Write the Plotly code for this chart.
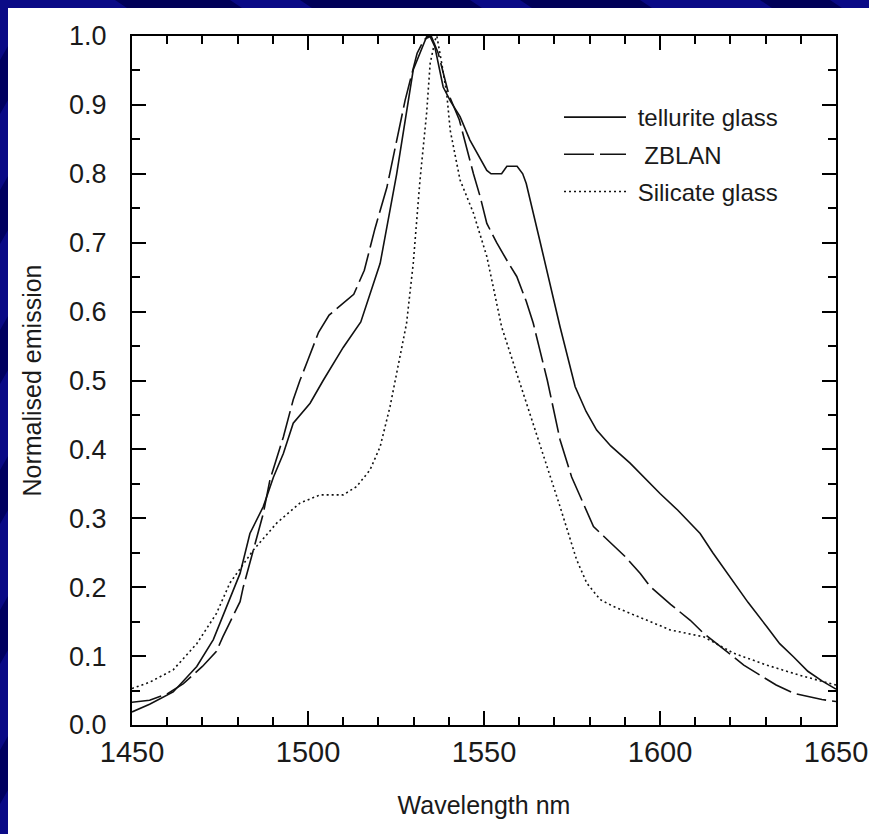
import plotly.graph_objects as go

# Emission spectra (normalised) for three host glasses
tellurite_nm = [1450, 1455, 1461.7, 1468.4, 1473.1, 1477.8, 1480.7, 1483.5, 1487.3, 1490.2,
                1493, 1495.8, 1500.6, 1504.3, 1510, 1515, 1517.5, 1520.5, 1525.2, 1529.9,
                1533.7, 1534.6, 1536, 1538.4, 1540.5, 1543.2, 1546, 1550.8, 1552, 1555,
                1556.5, 1559.4, 1561, 1562, 1566, 1571.6, 1575.9, 1579, 1582, 1586,
                1591.5, 1600, 1605, 1611.4, 1615, 1619.9, 1625, 1630.3, 1634, 1637.9,
                1642, 1646, 1650]
tellurite_em = [0.019, 0.03, 0.048, 0.085, 0.124, 0.182, 0.22, 0.278, 0.317, 0.36,
                0.394, 0.438, 0.467, 0.50, 0.548, 0.585, 0.625, 0.67, 0.80, 0.951,
                0.999, 1.0, 0.985, 0.926, 0.905, 0.883, 0.849, 0.805, 0.80, 0.80,
                0.811, 0.811, 0.80, 0.786, 0.70, 0.578, 0.491, 0.455, 0.428, 0.405,
                0.38, 0.336, 0.312, 0.278, 0.25, 0.215, 0.178, 0.143, 0.118, 0.099,
                0.078, 0.064, 0.052]

zblan_nm = [1450, 1455, 1460, 1464.6, 1470, 1474, 1475.8, 1480.7, 1481.6, 1487.3,
            1489.2, 1493, 1495.8, 1497.7, 1500, 1503, 1506, 1510, 1513, 1516,
            1519, 1522.4, 1524.7, 1527.6, 1531, 1533, 1535, 1537, 1540, 1543,
            1547, 1548.9, 1550.8, 1553.6, 1557, 1559.3, 1562, 1564, 1568, 1571.6,
            1574.9, 1581.1, 1584, 1590, 1594.4, 1597.2, 1603, 1608.6, 1612.4, 1618,
            1623.8, 1627.6, 1633, 1638, 1642.3, 1646, 1650]
zblan_em = [0.033, 0.036, 0.045, 0.06, 0.085, 0.107, 0.128, 0.179, 0.20, 0.307,
            0.356, 0.418, 0.472, 0.50, 0.53, 0.57, 0.595, 0.612, 0.625, 0.66,
            0.72, 0.78, 0.835, 0.907, 0.975, 0.995, 1.0, 0.975, 0.915, 0.878,
            0.80, 0.767, 0.728, 0.70, 0.67, 0.651, 0.615, 0.583, 0.50, 0.414,
            0.36, 0.288, 0.274, 0.245, 0.22, 0.201, 0.175, 0.152, 0.133, 0.11,
            0.087, 0.075, 0.058, 0.046, 0.041, 0.037, 0.034]

silicate_nm = [1450, 1455, 1461.7, 1468.4, 1474, 1477.8, 1484.5, 1491.1, 1497.7, 1503.4,
               1510, 1513.8, 1517.6, 1520.5, 1523.3, 1526, 1528, 1529.9, 1531.8, 1533.7,
               1534.7, 1536.1, 1536.6, 1538, 1539.4, 1540.4, 1543.2, 1547, 1550.8, 1555,
               1560, 1565, 1571.6, 1576.3, 1579.2, 1583, 1586.8, 1596.3, 1602.9, 1612.4,
               1621, 1630.3, 1639.8, 1650]
silicate_em = [0.053, 0.062, 0.08, 0.118, 0.162, 0.206, 0.254, 0.293, 0.322, 0.334,
               0.334, 0.346, 0.37, 0.404, 0.462, 0.53, 0.583, 0.67, 0.79, 0.888,
               0.96, 0.994, 1.0, 0.96, 0.917, 0.863, 0.791, 0.743, 0.68, 0.578,
               0.50, 0.42, 0.317, 0.24, 0.206, 0.182, 0.172, 0.152, 0.138, 0.128,
               0.104, 0.087, 0.072, 0.058]

series_names = [" tellurite glass", "  ZBLAN", " Silicate glass"]
x_ticks = [1450, 1500, 1550, 1600, 1650]
y_ticks = [0.0, 0.1, 0.2, 0.3, 0.4, 0.5, 0.6, 0.7, 0.8, 0.9, 1.0]

FONT = "Liberation Sans, Arial, sans-serif"
INK = "#1a1a1a"

fig = go.Figure()
fig.add_trace(go.Scatter(x=tellurite_nm, y=tellurite_em, mode="lines", name=series_names[0],
                         legendgroup="a", line=dict(color="#111", width=1.6)))
fig.add_trace(go.Scatter(x=zblan_nm, y=zblan_em, mode="lines", name=series_names[1],
                         legendgroup="b", line=dict(color="#111", width=1.6, dash="30px,6px")))
fig.add_trace(go.Scatter(x=silicate_nm, y=silicate_em, mode="lines", name=series_names[2],
                         legendgroup="c", line=dict(color="#111", width=1.6, dash="2px,3px")))

# slide frame: navy border around a white page
W, H = 869, 834
L, R, T, B = 132, 33, 36, 109
pw, ph = W - L - R, H - T - B


def px(xp):
    return (xp - L) / pw


def py(yp):
    return (H - B - yp) / ph


shapes = [dict(type="rect", xref="paper", yref="paper", layer="below",
               x0=px(8), x1=px(W + 5), y0=py(H + 5), y1=py(8),
               fillcolor="white", line=dict(width=0))]
# darker diagonal streaks in the border
for x0, x1 in [(115, 230), (300, 470), (520, 640), (760, 830)]:
    shapes.append(dict(type="path", xref="paper", yref="paper", layer="below",
                       path=f"M{px(x0)},{py(0)} L{px(x1)},{py(0)} L{px(x1 + 12)},{py(8)} L{px(x0 + 12)},{py(8)} Z",
                       fillcolor="#000058", line=dict(width=0)))
for y0 in [60, 190, 330, 470, 610, 750]:
    shapes.append(dict(type="path", xref="paper", yref="paper", layer="below",
                       path=f"M{px(0)},{py(y0)} L{px(8)},{py(y0 - 14)} L{px(8)},{py(y0 + 40)} L{px(0)},{py(y0 + 54)} Z",
                       fillcolor="#000060", line=dict(width=0)))

axis_common = dict(showline=True, linecolor="black", linewidth=2, mirror="ticks",
                   ticks="inside", ticklen=14, tickwidth=2, tickcolor="black",
                   showgrid=False, zeroline=False, automargin=False)

fig.update_layout(
    width=W, height=H,
    margin=dict(l=L, r=R, t=T, b=B, autoexpand=False),
    paper_bgcolor="#0a0a86",
    plot_bgcolor="white",
    shapes=shapes,
    font=dict(family=FONT, color=INK),
    xaxis=dict(range=[1450, 1650], tickvals=x_ticks, ticktext=[str(v) for v in x_ticks],
               tickfont=dict(size=29, color=INK),
               minor=dict(dtick=10, ticks="inside", ticklen=8, tickwidth=2, tickcolor="black"),
               title=dict(text="Wavelength nm", font=dict(size=25, color=INK), standoff=30),
               **axis_common),
    yaxis=dict(range=[0, 1.0], tickvals=y_ticks, ticktext=[f"{v:.1f}" for v in y_ticks],
               tickfont=dict(size=27, color=INK), ticklabelstandoff=18,
               minor=dict(dtick=0.05, ticks="inside", ticklen=8, tickwidth=2, tickcolor="black"),
               title=dict(text="Normalised emission", font=dict(size=25, color=INK), standoff=20),
               **axis_common),
    legend=dict(x=px(559), y=py(95), xanchor="left", yanchor="top",
                bgcolor="rgba(0,0,0,0)", font=dict(size=24, color=INK),
                tracegroupgap=3, itemwidth=62),
    showlegend=True,
)

fig.write_html("out.html")
